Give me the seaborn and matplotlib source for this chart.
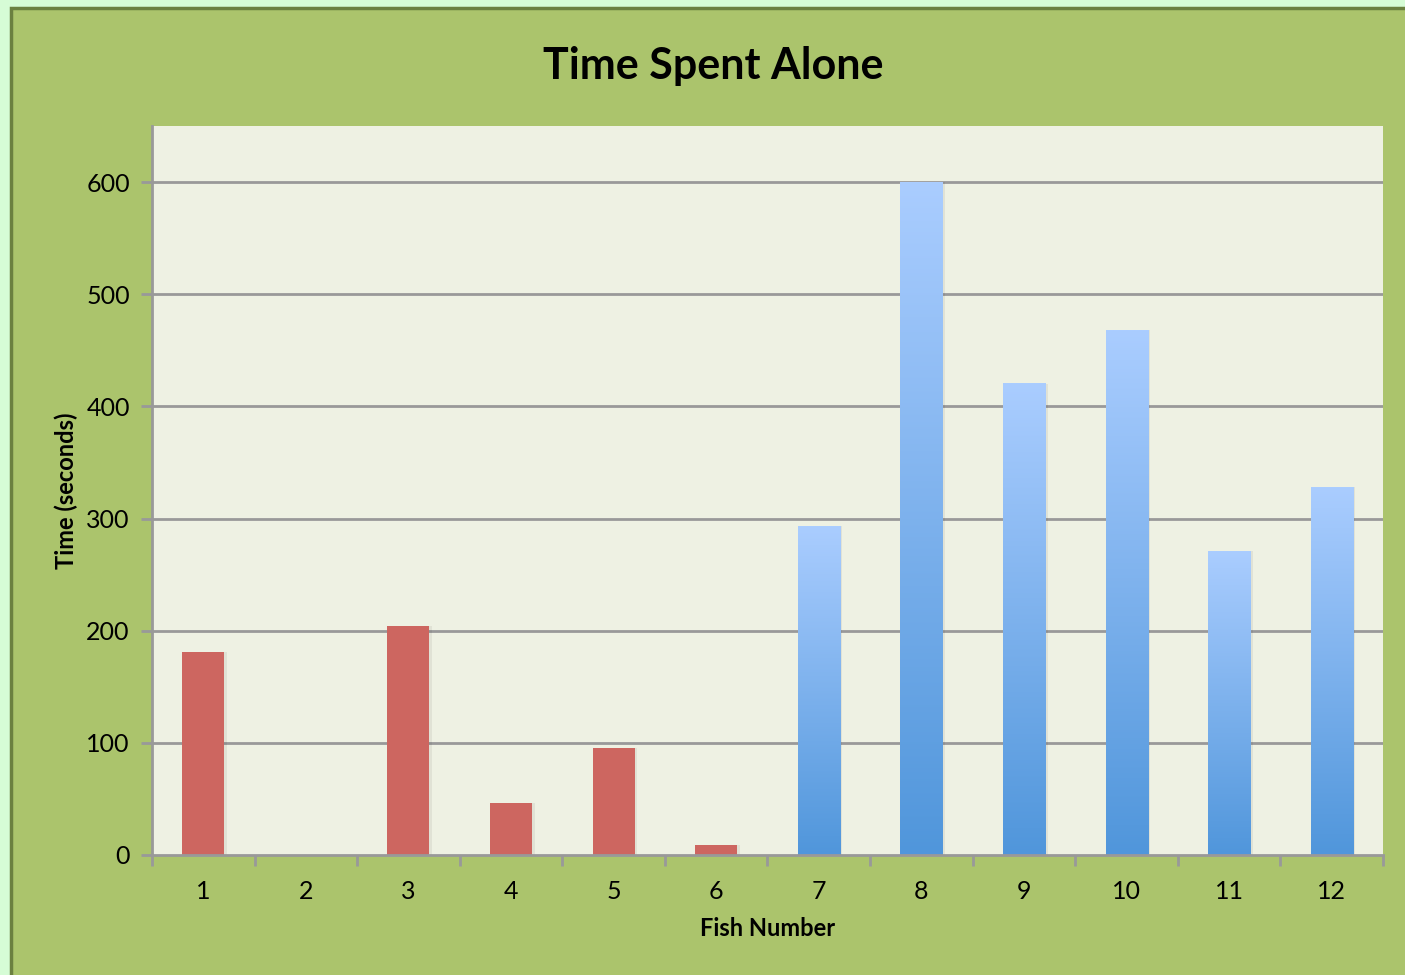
import numpy as np
import pandas as pd
import matplotlib
matplotlib.use("Agg")
import matplotlib.pyplot as plt
from matplotlib.patches import Rectangle
from matplotlib.lines import Line2D
from matplotlib.ticker import FixedLocator
import seaborn as sns

# Data
fish = ["1", "2", "3", "4", "5", "6", "7", "8", "9", "10", "11", "12"]
time_alone = [181, 0, 204, 46, 95, 9, 293, 600, 420, 468, 271, 328]
group = ["A", "A", "A", "A", "A", "A", "B", "B", "B", "B", "B", "B"]
y_ticks = [0, 100, 200, 300, 400, 500, 600]

df = pd.DataFrame({"fish": fish, "time": time_alone, "group": group})

sns.set_theme(style="white")
plt.rcParams["font.family"] = ["Lato", "DejaVu Sans"]
plt.rcParams["text.color"] = "black"
plt.rcParams["axes.labelcolor"] = "black"

fig = plt.figure(figsize=(14.05, 9.75), dpi=100)
fig.patch.set_facecolor("#d6fcd6")

# Green chart frame with a dark edge on its top and left sides
fx, fy = 11 / 1405, 1 - 8 / 975
fig.patches.append(Rectangle((fx, 0), 1 - fx, fy, transform=fig.transFigure,
                             facecolor="#abc46c", edgecolor="none", zorder=-10))
fig.lines.append(Line2D([fx, fx, 1], [0, fy, fy], transform=fig.transFigure,
                        color="#6b8040", linewidth=2.5, zorder=-9,
                        solid_joinstyle="miter"))

ax = fig.add_axes([152 / 1405, 1 - 855 / 975, (1383 - 152) / 1405, (855 - 126) / 975])
ax.set_zorder(2)
ax.set_facecolor("#eef1e3")

sns.barplot(data=df, x="fish", y="time", hue="group",
            palette={"A": "#cd6660", "B": "#7fb0ea"}, dodge=False,
            width=0.41, legend=False, ax=ax, zorder=3, saturation=1,
            linewidth=0, edgecolor="none")

# Vertical gradient for the second group of bars
grad = np.linspace(0, 1, 256).reshape(-1, 1)
cmap = matplotlib.colors.LinearSegmentedColormap.from_list("blues", ["#5096db", "#aacdff"])
for p in list(ax.patches):
    h = p.get_height()
    if h <= 0:
        continue
    x0, w = p.get_x(), p.get_width()
    # soft shadow
    ax.add_patch(Rectangle((x0 + 0.025, 0), w, h, facecolor="#000000", alpha=0.06,
                           edgecolor="none", zorder=2))
    fc = matplotlib.colors.to_hex(p.get_facecolor())
    if fc.lower() != "#cd6660":
        p.set_facecolor("none")
        ax.imshow(grad, extent=(x0, x0 + w, 0, h), origin="lower", cmap=cmap,
                  aspect="auto", zorder=3, interpolation="bilinear")

ax.set_xlim(-0.5, 11.5)
ax.set_ylim(0, 650)
ax.set_yticks(y_ticks)
ax.xaxis.set_minor_locator(FixedLocator(np.arange(-0.5, 12, 1)))
for yv in y_ticks[1:]:
    ax.axhline(yv, color="#999999", linewidth=2, zorder=1)

for side in ["top", "right"]:
    ax.spines[side].set_visible(False)
for side in ["left", "bottom"]:
    ax.spines[side].set_color("#999999")
    ax.spines[side].set_linewidth(2)
    ax.spines[side].set_zorder(4)

ax.tick_params(axis="y", which="major", length=8, width=2, color="#999999",
               direction="out", labelsize=18, labelcolor="black", pad=8, left=True)
ax.tick_params(axis="x", which="major", length=0, labelsize=18, labelcolor="black", pad=18)
ax.tick_params(axis="x", which="minor", length=8, width=2, color="#999999",
               direction="out", bottom=True)

ax.set_xlabel("Fish Number", fontsize=17, fontweight="bold", labelpad=10)
ax.set_ylabel("Time (seconds)", fontsize=17, fontweight="bold", labelpad=6)

fig.text(713 / 1405, 1 - 66 / 975, "Time Spent Alone", ha="center", va="center",
         fontsize=31, fontweight="bold", color="black")

fig.savefig("out.png", dpi=100, facecolor=fig.get_facecolor())
